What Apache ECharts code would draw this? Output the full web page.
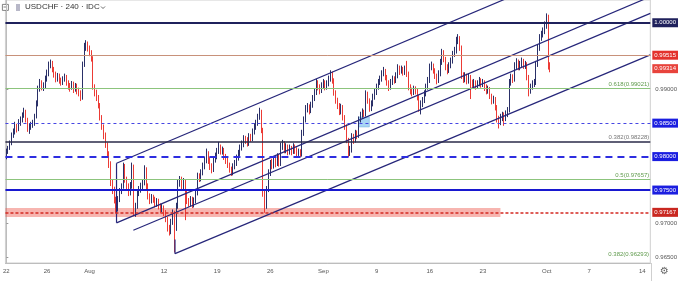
<!DOCTYPE html>
<html><head><meta charset="utf-8">
<script src="https://cdn.jsdelivr.net/npm/echarts@6/dist/echarts.min.js"></script>
<style>html,body{margin:0;padding:0;background:#fff}#c{width:680px;height:281px}</style>
</head><body><div id="c"></div>
<script>
// ---- categories: 4-hour slots of trading days, 2019-07-22 .. 2019-10-14 ----
const firstDay = '2019-07-22', lastDay = '2019-10-14';
const slots = ['00:00','04:00','08:00','12:00','16:00','20:00'];
const categories = [];
for (let d = new Date(firstDay + 'T00:00:00Z'); d <= new Date(lastDay + 'T00:00:00Z'); d.setUTCDate(d.getUTCDate() + 1)) {
  const wd = d.getUTCDay(); if (wd === 0 || wd === 6) continue;
  const ds = d.toISOString().slice(0, 10);
  for (const s of slots) categories.push(ds + ' ' + s);
}
categories.length = 364;
const tickDates = ['2019-07-22','2019-07-26','2019-08-01','2019-08-12','2019-08-19','2019-08-26','2019-09-02','2019-09-09','2019-09-16','2019-09-23','2019-10-01','2019-10-07','2019-10-14'];
const tickLabels = ['22','26','Aug','12','19','26','Sep','9','16','23','Oct','7','14'];

// ---- USDCHF 240 candles ----
const opens = [.9800,.9808,.9813,.9820,.9832,.9837,.9845,.9842,.9850,.9855,
.9862,.9867,.9855,.9842,.9845,.9847,.9850,.9860,.9879,.9901,
.9911,.9904,.9906,.9916,.9924,.9938,.9941,.9931,.9924,.9916,
.9921,.9914,.9911,.9916,.9919,.9911,.9906,.9904,.9909,.9901,
.9906,.9899,.9896,.9887,.9938,.9965,.9970,.9963,.9956,.9948,
.9904,.9896,.9889,.9877,.9859,.9845,.9832,.9818,.9805,.9790,
.9761,.9751,.9736,.9721,.9736,.9749,.9756,.9786,.9766,.9756,
.9746,.9756,.9786,.9714,.9726,.9746,.9751,.9756,.9761,.9781,
.9756,.9741,.9734,.9739,.9736,.9729,.9734,.9726,.9721,.9724,
.9716,.9707,.9694,.9687,.9702,.9716,.9692,.9726,.9761,.9766,
.9756,.9763,.9746,.9734,.9731,.9736,.9729,.9734,.9746,.9771,
.9768,.9776,.9786,.9795,.9805,.9795,.9786,.9781,.9795,.9800,
.9808,.9815,.9808,.9810,.9800,.9795,.9788,.9781,.9776,.9786,
.9790,.9798,.9805,.9813,.9818,.9827,.9825,.9820,.9830,.9827,
.9837,.9845,.9850,.9859,.9867,.9840,.9746,.9726,.9751,.9776,
.9790,.9786,.9795,.9790,.9800,.9790,.9815,.9820,.9810,.9815,
.9808,.9813,.9808,.9815,.9810,.9805,.9808,.9803,.9835,.9855,
.9872,.9874,.9869,.9877,.9887,.9896,.9911,.9904,.9899,.9906,
.9911,.9904,.9909,.9916,.9924,.9914,.9896,.9884,.9877,.9867,
.9874,.9859,.9845,.9825,.9805,.9810,.9830,.9825,.9835,.9832,
.9855,.9862,.9867,.9864,.9894,.9884,.9872,.9879,.9889,.9896,
.9904,.9911,.9916,.9924,.9928,.9919,.9911,.9904,.9911,.9916,
.9914,.9921,.9933,.9928,.9931,.9926,.9931,.9924,.9904,.9899,
.9896,.9901,.9899,.9889,.9872,.9879,.9884,.9894,.9904,.9914,
.9934,.9936,.9929,.9921,.9914,.9924,.9941,.9956,.9946,.9934,
.9929,.9936,.9943,.9953,.9958,.9973,.9976,.9963,.9921,.9916,
.9921,.9914,.9919,.9911,.9909,.9911,.9906,.9909,.9914,.9909,
.9911,.9904,.9899,.9901,.9891,.9884,.9886,.9874,.9857,.9852,
.9859,.9862,.9857,.9864,.9869,.9911,.9919,.9916,.9936,.9941,
.9934,.9938,.9943,.9936,.9938,.9919,.9899,.9904,.9909,.9911,
.9938,.9963,.9978,.9983,.9988,.9996,1.0010,.9938];
const closes = [.9808,.9813,.9820,.9832,.9837,.9845,.9842,.9850,.9855,.9862,
.9867,.9855,.9842,.9845,.9847,.9850,.9860,.9879,.9901,.9911,
.9904,.9906,.9916,.9924,.9938,.9941,.9931,.9924,.9916,.9921,
.9914,.9911,.9916,.9919,.9911,.9906,.9904,.9909,.9901,.9906,
.9899,.9896,.9887,.9938,.9965,.9970,.9963,.9956,.9948,.9904,
.9896,.9889,.9877,.9859,.9845,.9832,.9818,.9805,.9790,.9761,
.9751,.9736,.9721,.9736,.9749,.9756,.9786,.9766,.9756,.9746,
.9756,.9786,.9714,.9726,.9746,.9751,.9756,.9761,.9781,.9756,
.9741,.9734,.9739,.9736,.9729,.9734,.9726,.9721,.9724,.9716,
.9707,.9694,.9687,.9702,.9716,.9692,.9726,.9761,.9766,.9756,
.9763,.9746,.9734,.9731,.9736,.9729,.9734,.9746,.9771,.9768,
.9776,.9786,.9795,.9805,.9795,.9786,.9781,.9795,.9800,.9808,
.9815,.9808,.9810,.9800,.9795,.9788,.9781,.9776,.9786,.9790,
.9798,.9805,.9813,.9818,.9827,.9825,.9820,.9830,.9827,.9837,
.9845,.9850,.9859,.9867,.9840,.9746,.9726,.9751,.9776,.9790,
.9786,.9795,.9790,.9800,.9790,.9815,.9820,.9810,.9815,.9808,
.9813,.9808,.9815,.9810,.9805,.9808,.9803,.9835,.9855,.9872,
.9874,.9869,.9877,.9887,.9896,.9911,.9904,.9899,.9906,.9911,
.9904,.9909,.9916,.9924,.9914,.9896,.9884,.9877,.9867,.9874,
.9859,.9845,.9825,.9805,.9810,.9830,.9825,.9835,.9832,.9855,
.9862,.9867,.9864,.9894,.9884,.9872,.9879,.9889,.9896,.9904,
.9911,.9916,.9924,.9928,.9919,.9911,.9904,.9911,.9916,.9914,
.9921,.9933,.9928,.9931,.9926,.9931,.9924,.9904,.9899,.9896,
.9901,.9899,.9889,.9872,.9879,.9884,.9894,.9904,.9914,.9934,
.9936,.9929,.9921,.9914,.9924,.9941,.9956,.9946,.9934,.9929,
.9936,.9943,.9953,.9958,.9973,.9976,.9963,.9921,.9916,.9921,
.9914,.9919,.9911,.9909,.9911,.9906,.9909,.9914,.9909,.9911,
.9904,.9899,.9901,.9891,.9884,.9886,.9874,.9857,.9852,.9859,
.9862,.9857,.9864,.9869,.9911,.9919,.9916,.9936,.9941,.9934,
.9938,.9943,.9936,.9938,.9919,.9899,.9904,.9909,.9911,.9938,
.9963,.9978,.9983,.9988,.9996,1.0010,.9938,.9931];
const highs = [.9812,.9816,.9824,.9836,.9842,.9852,.9849,.9856,.9860,.9866,
.9873,.9870,.9858,.9850,.9852,.9855,.9864,.9884,.9906,.9916,
.9914,.9911,.9921,.9930,.9942,.9945,.9943,.9934,.9927,.9925,
.9924,.9918,.9920,.9924,.9922,.9914,.9910,.9913,.9912,.9910,
.9909,.9903,.9899,.9942,.9970,.9974,.9972,.9966,.9959,.9950,
.9908,.9900,.9892,.9880,.9862,.9848,.9836,.9821,.9808,.9793,
.9766,.9755,.9740,.9741,.9753,.9760,.9791,.9789,.9770,.9760,
.9762,.9791,.9788,.9731,.9750,.9756,.9761,.9766,.9787,.9784,
.9760,.9745,.9744,.9743,.9740,.9738,.9737,.9730,.9729,.9727,
.9720,.9710,.9698,.9707,.9721,.9719,.9731,.9766,.9771,.9770,
.9768,.9766,.9749,.9738,.9741,.9740,.9739,.9751,.9776,.9775,
.9781,.9791,.9800,.9812,.9808,.9799,.9790,.9800,.9806,.9813,
.9822,.9818,.9815,.9813,.9804,.9798,.9791,.9785,.9790,.9795,
.9803,.9810,.9818,.9824,.9832,.9831,.9829,.9835,.9834,.9842,
.9850,.9855,.9864,.9873,.9870,.9843,.9750,.9756,.9781,.9795,
.9797,.9800,.9799,.9805,.9804,.9821,.9825,.9823,.9820,.9818,
.9818,.9816,.9820,.9818,.9814,.9812,.9811,.9840,.9860,.9877,
.9880,.9878,.9882,.9892,.9901,.9916,.9914,.9908,.9911,.9916,
.9914,.9914,.9921,.9929,.9927,.9917,.9899,.9888,.9880,.9879,
.9877,.9862,.9848,.9828,.9816,.9835,.9834,.9840,.9839,.9860,
.9867,.9872,.9870,.9899,.9897,.9887,.9884,.9894,.9901,.9909,
.9916,.9921,.9929,.9934,.9931,.9922,.9914,.9916,.9921,.9920,
.9926,.9938,.9936,.9936,.9934,.9936,.9943,.9927,.9908,.9903,
.9906,.9905,.9902,.9892,.9884,.9889,.9899,.9909,.9919,.9939,
.9942,.9939,.9932,.9924,.9929,.9946,.9961,.9959,.9949,.9938,
.9941,.9948,.9958,.9964,.9979,.9983,.9980,.9966,.9926,.9926,
.9924,.9924,.9922,.9915,.9916,.9914,.9914,.9919,.9917,.9916,
.9914,.9908,.9906,.9904,.9894,.9891,.9889,.9877,.9861,.9864,
.9867,.9866,.9869,.9874,.9916,.9924,.9923,.9941,.9947,.9945,
.9943,.9948,.9946,.9943,.9941,.9922,.9909,.9914,.9916,.9943,
.9968,.9983,.9988,.9993,1.0002,1.0014,1.0012,.9941];
const lows = [.9796,.9804,.9810,.9817,.9828,.9833,.9836,.9838,.9846,.9851,
.9858,.9851,.9837,.9834,.9840,.9843,.9846,.9857,.9875,.9897,
.9899,.9898,.9902,.9912,.9920,.9932,.9926,.9918,.9911,.9912,
.9909,.9906,.9907,.9912,.9906,.9900,.9897,.9900,.9895,.9897,
.9893,.9890,.9883,.9885,.9934,.9958,.9957,.9950,.9942,.9900,
.9890,.9883,.9872,.9854,.9840,.9826,.9813,.9799,.9783,.9756,
.9744,.9730,.9715,.9718,.9732,.9744,.9752,.9761,.9750,.9741,
.9742,.9752,.9711,.9710,.9722,.9741,.9746,.9750,.9757,.9751,
.9736,.9729,.9730,.9731,.9724,.9725,.9721,.9716,.9717,.9711,
.9702,.9688,.9682,.9684,.9698,.9657,.9689,.9722,.9755,.9750,
.9751,.9705,.9729,.9725,.9726,.9723,.9724,.9730,.9742,.9762,
.9763,.9772,.9781,.9790,.9789,.9780,.9775,.9777,.9791,.9796,
.9804,.9803,.9803,.9795,.9789,.9783,.9776,.9771,.9772,.9781,
.9786,.9794,.9801,.9809,.9814,.9819,.9815,.9816,.9822,.9823,
.9833,.9840,.9846,.9855,.9835,.9740,.9716,.9722,.9747,.9771,
.9781,.9782,.9784,.9786,.9785,.9786,.9810,.9805,.9805,.9802,
.9803,.9802,.9804,.9804,.9800,.9801,.9799,.9800,.9831,.9851,
.9866,.9863,.9865,.9873,.9883,.9892,.9899,.9893,.9895,.9902,
.9899,.9900,.9905,.9912,.9909,.9891,.9879,.9871,.9862,.9863,
.9854,.9840,.9820,.9799,.9801,.9806,.9819,.9821,.9826,.9828,
.9851,.9858,.9859,.9860,.9879,.9867,.9868,.9875,.9885,.9892,
.9900,.9907,.9912,.9920,.9914,.9906,.9898,.9900,.9907,.9909,
.9910,.9917,.9922,.9924,.9921,.9922,.9919,.9899,.9893,.9890,
.9892,.9893,.9884,.9867,.9863,.9874,.9880,.9890,.9900,.9910,
.9929,.9924,.9916,.9908,.9910,.9920,.9937,.9941,.9929,.9923,
.9925,.9932,.9939,.9949,.9954,.9968,.9958,.9916,.9910,.9911,
.9908,.9909,.9886,.9903,.9904,.9900,.9902,.9905,.9903,.9904,
.9898,.9893,.9894,.9886,.9878,.9879,.9869,.9851,.9842,.9847,
.9853,.9846,.9853,.9859,.9866,.9906,.9910,.9912,.9931,.9929,
.9929,.9934,.9931,.9931,.9914,.9890,.9894,.9900,.9904,.9907,
.9934,.9958,.9973,.9978,.9983,.9991,.9930,.9926];

// ---- drawn levels ----
const resistanceLevel = 1.00000;
const priorClose = 0.99515;
const lastPrice = 0.99314;
const blueLevels = [0.98500, 0.98000, 0.97500];
const supportLevel = 0.97167;
const swingLevel = 0.98228;
const fibRatios = ['0.618', '0.5', '0.382'];
const fibPrices = [0.99021, 0.97657, 0.96293];
const plainTicks = [0.99, 0.97, 0.965];
// trend channel anchors [candle index, price]
const channelLines = [
  [[62.2, 0.9790], [300, 1.0056]],
  [[62.2, 0.9701], [363.5, 1.0039]],
  [[71.7, 0.9690], [363.5, 1.0014]],
  [[95.2, 0.9655], [363.5, 0.9952]]
];
const channelTicks = [
  [[62.2, 0.9701], [62.2, 0.9790]],
  [[95.2, 0.9655], [95.2, 0.9676]]
];
const supportZone = [[-0.5, 0.97232], [278.9, 0.97098]];
const noteBox = [[198.8, 0.98592], [204.9, 0.98443]];

const candles = closes.map((c, i) => [opens[i], c, lows[i], highs[i]]);
const FONT = 'Liberation Sans';
const NAVY = '#1f215c', RED = '#e3322c', BLUE = '#1b1ee0', GREEN = '#8cc47c';

function box(bg, txt) {
  return { show: true, position: 'end', distance: 2, formatter: txt, color: '#fff',
    backgroundColor: bg, padding: [1, 2, 1, 2], fontSize: 6, fontFamily: FONT, lineHeight: 7 };
}
function fibLabel(txt, col) {
  return { show: true, position: 'insideEndTop', distance: 1, formatter: txt, color: col, fontSize: 6, fontFamily: FONT };
}
const hl = [
  { yAxis: resistanceLevel, lineStyle: { color: NAVY, width: 2, type: 'solid' }, label: box(NAVY, resistanceLevel.toFixed(5)) },
  { yAxis: priorClose, lineStyle: { color: '#c8917a', width: 1, type: 'solid' }, label: box(RED, priorClose.toFixed(5)) },
  { yAxis: lastPrice, lineStyle: { color: 'rgba(0,0,0,0)', width: 0 }, label: box('#e8433c', lastPrice.toFixed(5)) },
  { yAxis: blueLevels[0], lineStyle: { color: '#4646e4', width: 1, type: [3, 3] }, label: box(BLUE, blueLevels[0].toFixed(5)) },
  { yAxis: blueLevels[1], lineStyle: { color: '#2d2de0', width: 2, type: [7, 5] }, label: box(BLUE, blueLevels[1].toFixed(5)) },
  { yAxis: blueLevels[2], lineStyle: { color: '#1818d0', width: 2, type: 'solid' }, label: box(BLUE, blueLevels[2].toFixed(5)) },
  { yAxis: supportLevel, lineStyle: { color: '#d42a22', width: 1.5, type: [3, 2] }, label: box('#c92720', supportLevel.toFixed(5)) },
  { yAxis: swingLevel, lineStyle: { color: '#2a2a48', width: 1.5, type: 'solid' }, label: fibLabel('0.382(' + swingLevel.toFixed(5) + ')', '#777') },
  { yAxis: fibPrices[0], lineStyle: { color: GREEN, width: 1, type: 'solid' }, label: fibLabel(fibRatios[0] + '(' + fibPrices[0].toFixed(5) + ')', '#5f9a4c') },
  { yAxis: fibPrices[1], lineStyle: { color: GREEN, width: 1, type: 'solid' }, label: fibLabel(fibRatios[1] + '(' + fibPrices[1].toFixed(5) + ')', '#5f9a4c') }
];

const series = [{
  type: 'candlestick', data: candles, barWidth: 1.2, silent: true,
  itemStyle: { color: '#2a3068', color0: '#ec3b35', borderColor: '#2a3068', borderColor0: '#ec3b35', borderWidth: 1 },
  markLine: { symbol: ['none', 'none'], precision: 5, silent: true, animation: false, data: hl }
}];
series.push({
  type: 'line', xAxisIndex: 1, data: [], silent: true,
  markArea: { silent: true, data: [
    [{ coord: supportZone[0], itemStyle: { color: 'rgba(238,90,80,0.45)' } }, { coord: supportZone[1] }],
    [{ coord: noteBox[0], itemStyle: { color: 'rgba(140,200,240,0.75)', borderColor: '#6aa8dc', borderWidth: 0.5 } }, { coord: noteBox[1] }]
  ] }
});
channelLines.concat(channelTicks).forEach(seg => series.push({
  type: 'line', xAxisIndex: 1, data: seg, symbol: 'none', silent: true, clip: true,
  lineStyle: { color: '#26267a', width: 1.2 }
}));

// session labels sit on the first 4h slot of each session (previous evening)
const tickIndex = {};
tickDates.forEach((d, k) => { tickIndex[Math.max(0, categories.indexOf(d + ' 00:00') - 1)] = tickLabels[k]; });
const isTick = i => tickIndex[i] !== undefined;

const chart = echarts.init(document.getElementById('c'), null, { renderer: 'canvas' });
chart.setOption({
  animation: false,
  textStyle: { fontFamily: FONT },
  grid: { left: 1, right: 29, top: 0, bottom: 18, show: true, borderColor: '#cfcfcf', borderWidth: 1 },
  xAxis: [{
    type: 'category', data: categories, boundaryGap: true,
    axisLine: { lineStyle: { color: '#bdbdbd' } },
    axisTick: { interval: i => isTick(i), length: 2, lineStyle: { color: '#bdbdbd' } },
    axisLabel: { interval: i => isTick(i), formatter: (v, i) => tickIndex[i] || '', fontSize: 6, color: '#555', margin: 5, alignMinLabel: 'center' },
    splitLine: { show: false }
  }, { type: 'value', min: -0.5, max: 363.5, show: false }],
  yAxis: {
    type: 'value', position: 'right', min: 0.9641, max: 1.0034, scale: true,
    axisLine: { show: true, lineStyle: { color: '#bdbdbd' } },
    axisTick: { show: true, customValues: plainTicks, length: 2, lineStyle: { color: '#999' } },
    axisLabel: { customValues: plainTicks, formatter: v => v.toFixed(5), fontSize: 6, color: '#555', margin: 5 },
    splitLine: { show: false }
  },
  graphic: [
    { type: 'text', right: 31, top: 251, style: { text: fibRatios[2] + '(' + fibPrices[2].toFixed(5) + ')', fill: '#5f9a4c', font: '6px ' + FONT } },
    { type: 'rect', left: 2, top: 4, shape: { width: 6, height: 6 }, style: { fill: '#fff', stroke: '#666', lineWidth: 0.8 } },
    { type: 'line', shape: { x1: 3.5, y1: 7, x2: 6.5, y2: 7 }, style: { stroke: '#666', lineWidth: 0.8 } },
    { type: 'rect', left: 16, top: 4, shape: { width: 4, height: 7 }, style: { fill: '#b8b8c8' } },
    { type: 'text', left: 25, top: 3, style: { text: 'USDCHF · 240 · IDC', fill: '#333', font: '8px ' + FONT } },
    { type: 'polyline', shape: { points: [[101, 6.5], [103, 8.5], [105, 6.5]] }, style: { stroke: '#444', lineWidth: 0.8, fill: null } },
    { type: 'line', shape: { x1: 651.5, y1: 263, x2: 651.5, y2: 281 }, style: { stroke: '#cfcfcf', lineWidth: 1 } },
    { type: 'text', left: 660, top: 266, style: { text: '⚙', fill: '#666', font: '10px DejaVu Sans' } }
  ],
  series
});
</script></body></html>
